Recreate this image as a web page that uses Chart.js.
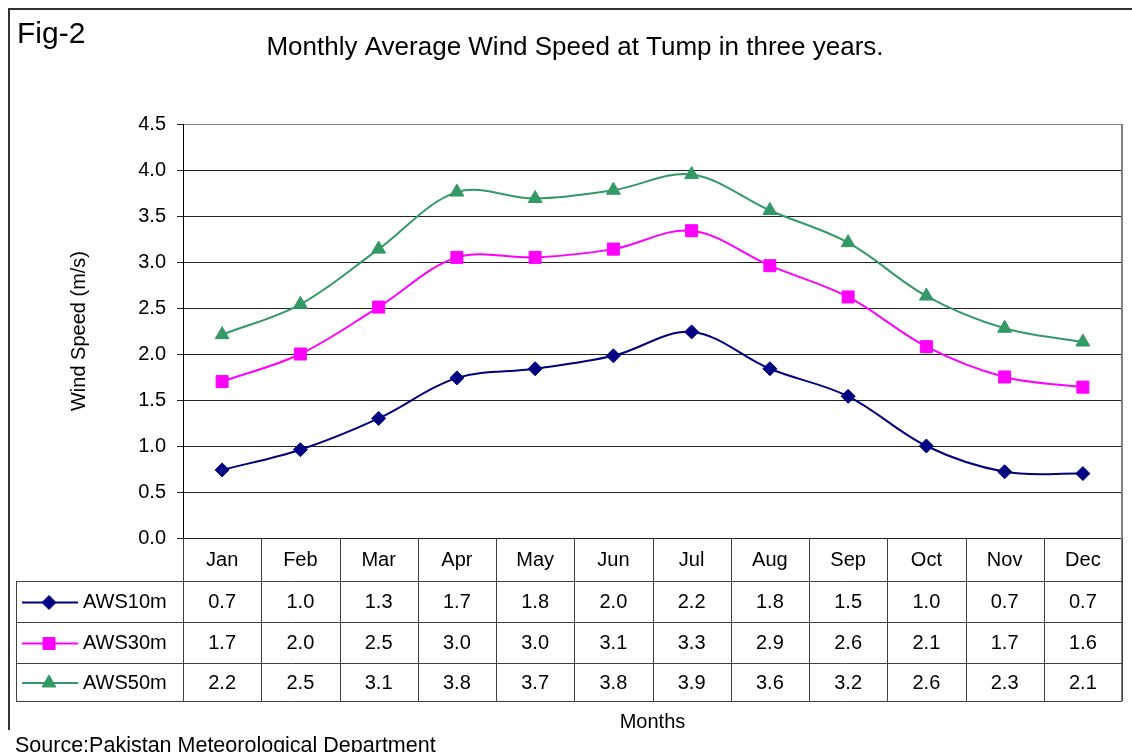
<!DOCTYPE html>
<html>
<head>
<meta charset="utf-8">
<script src="https://cdn.jsdelivr.net/npm/chart.js@4.4.1/dist/chart.umd.min.js"></script>
<style>
  html, body { margin: 0; padding: 0; background: #ffffff; }
  #c { display: block; }
</style>
</head>
<body>
<canvas id="c" width="1132" height="752"></canvas>
<script>
const months = ['Jan','Feb','Mar','Apr','May','Jun','Jul','Aug','Sep','Oct','Nov','Dec'];
const seriesNames = ['AWS10m','AWS30m','AWS50m'];
const aws10 = [0.74, 0.96, 1.30, 1.74, 1.84, 1.98, 2.24, 1.84, 1.54, 1.00, 0.72, 0.70];
const aws30 = [1.70, 2.00, 2.51, 3.05, 3.05, 3.14, 3.34, 2.96, 2.62, 2.08, 1.75, 1.64];
const aws50 = [2.21, 2.54, 3.14, 3.76, 3.69, 3.78, 3.95, 3.56, 3.21, 2.63, 2.28, 2.13];
const aws10Labels = ['0.7','1.0','1.3','1.7','1.8','2.0','2.2','1.8','1.5','1.0','0.7','0.7'];
const aws30Labels = ['1.7','2.0','2.5','3.0','3.0','3.1','3.3','2.9','2.6','2.1','1.7','1.6'];
const aws50Labels = ['2.2','2.5','3.1','3.8','3.7','3.8','3.9','3.6','3.2','2.6','2.3','2.1'];
const yTicks = [0, 0.5, 1.0, 1.5, 2.0, 2.5, 3.0, 3.5, 4.0, 4.5];

const FONT = "'Liberation Sans', Arial, sans-serif";
const colors = ['#000080', '#FF00FF', '#339966'];
const styles = ['rectRot', 'rect', 'triangle'];
const radii = [7, 8.5, 8];
const tableLabels = [aws10Labels, aws30Labels, aws50Labels];

const decorPlugin = {
  id: 'decor',
  beforeDraw(chart) {
    const ctx = chart.ctx;
    ctx.save();
    ctx.fillStyle = '#ffffff';
    ctx.fillRect(0, 0, chart.width, chart.height);
    // outer frame
    ctx.strokeStyle = '#333333';
    ctx.lineWidth = 2;
    ctx.strokeRect(9, 9, chart.width + 20, chart.height + 20);
    ctx.restore();
  },
  afterDraw(chart) {
    const ctx = chart.ctx;
    const xs = chart.scales.x;
    const area = chart.chartArea;
    const n = months.length;
    const step = (area.right - area.left) / n;
    const top = area.bottom;
    const rows = [top, top + 43, top + 84, top + 125, top + 163];
    const tableLeft = 16;
    ctx.save();
    // plot right border (gray)
    ctx.strokeStyle = '#808080';
    ctx.lineWidth = 2;
    ctx.beginPath();
    ctx.moveTo(area.right, area.top);
    ctx.lineTo(area.right, rows[4]);
    ctx.stroke();
    // table lines
    ctx.strokeStyle = '#404040';
    ctx.lineWidth = 1;
    ctx.beginPath();
    for (let i = 0; i <= n; i++) {
      const x = Math.round(area.left + i * step) + 0.5;
      ctx.moveTo(x, rows[0]);
      ctx.lineTo(x, rows[4]);
    }
    for (let r = 1; r <= 4; r++) {
      ctx.moveTo(tableLeft, rows[r] + 0.5);
      ctx.lineTo(area.right, rows[r] + 0.5);
    }
    ctx.moveTo(tableLeft + 0.5, rows[1]);
    ctx.lineTo(tableLeft + 0.5, rows[4]);
    ctx.stroke();
    // month header
    ctx.fillStyle = '#000000';
    ctx.font = '20px ' + FONT;
    ctx.textAlign = 'center';
    ctx.textBaseline = 'middle';
    months.forEach((m, i) => {
      ctx.fillText(m, xs.getPixelForValue(i), (rows[0] + rows[1]) / 2 + 1);
    });
    // rows
    for (let s = 0; s < 3; s++) {
      const cy = (rows[s + 1] + rows[s + 2]) / 2 + 1;
      ctx.textAlign = 'center';
      ctx.fillStyle = '#000000';
      tableLabels[s].forEach((v, i) => {
        ctx.fillText(v, xs.getPixelForValue(i), cy);
      });
      // legend key
      ctx.strokeStyle = colors[s];
      ctx.lineWidth = 2;
      ctx.beginPath();
      ctx.moveTo(22, cy);
      ctx.lineTo(78, cy);
      ctx.stroke();
      ctx.fillStyle = colors[s];
      ctx.strokeStyle = colors[s];
      ctx.lineWidth = 1;
      Chart.helpers.drawPoint(ctx, { pointStyle: styles[s], radius: radii[s], borderWidth: 1 }, 49, cy);
      ctx.fillStyle = '#000000';
      ctx.textAlign = 'left';
      ctx.fillText(seriesNames[s], 83, cy);
    }
    // Fig-2 label
    ctx.font = '30px ' + FONT;
    ctx.textAlign = 'left';
    ctx.textBaseline = 'alphabetic';
    ctx.fillText('Fig-2', 17, 43);
    // source
    ctx.font = '21.5px ' + FONT;
    const src = 'Source:Pakistan Meteorological Department';
    const w = ctx.measureText(src).width;
    ctx.fillStyle = '#ffffff';
    ctx.fillRect(0, 730, w + 20, 30);
    ctx.fillStyle = '#000000';
    ctx.fillText(src, 15, 752);
    ctx.restore();
  }
};

const mk = (label, data, i) => ({
  label,
  data,
  borderColor: colors[i],
  backgroundColor: colors[i],
  borderWidth: 2,
  pointStyle: styles[i],
  pointRadius: radii[i],
  pointHoverRadius: radii[i],
  pointBackgroundColor: colors[i],
  pointBorderColor: colors[i],
  pointBorderWidth: 1,
  tension: 0.35,
  fill: false
});

new Chart(document.getElementById('c'), {
  type: 'line',
  data: {
    labels: months,
    datasets: [mk(seriesNames[0], aws10, 0), mk(seriesNames[1], aws30, 1), mk(seriesNames[2], aws50, 2)]
  },
  options: {
    responsive: false,
    animation: false,
    devicePixelRatio: 1,
    layout: { padding: { left: 28, right: 10, top: 0, bottom: 14 } },
    plugins: {
      legend: { display: false },
      tooltip: { enabled: false },
      title: {
        display: true,
        text: 'Monthly Average Wind Speed at Tump in three years.',
        color: '#000000',
        font: { family: FONT, size: 26, weight: 'normal', lineHeight: 1.2 },
        padding: { top: 32, bottom: 60.8 }
      }
    },
    scales: {
      x: {
        type: 'category',
        offset: true,
        grid: { display: false },
        border: { display: false },
        ticks: { display: false },
        title: {
          display: true,
          text: 'Months',
          color: '#000000',
          font: { family: FONT, size: 20, lineHeight: 1.2 },
          padding: { top: 0, bottom: 4 }
        },
        afterFit(s) { s.height = 200; }
      },
      y: {
        min: 0,
        max: 4.5,
        afterBuildTicks(s) { s.ticks = yTicks.map(v => ({ value: v })); },
        grid: {
          color: c => (c.tick && c.tick.value === 4.5) ? '#808080' : '#222222',
          tickColor: '#222222',
          lineWidth: 1,
          tickLength: 6,
          drawTicks: true
        },
        border: { display: true, color: '#000000', width: 1 },
        ticks: {
          color: '#000000',
          padding: 11,
          font: { family: FONT, size: 20 },
          callback: v => Number(v).toFixed(1)
        },
        title: {
          display: true,
          text: 'Wind Speed (m/s)',
          color: '#000000',
          font: { family: FONT, size: 20, lineHeight: 1.2 },
          padding: { top: 39, bottom: 0 }
        },
        afterFit(s) { s.width = 155; }
      }
    }
  },
  plugins: [decorPlugin]
});
</script>
</body>
</html>
